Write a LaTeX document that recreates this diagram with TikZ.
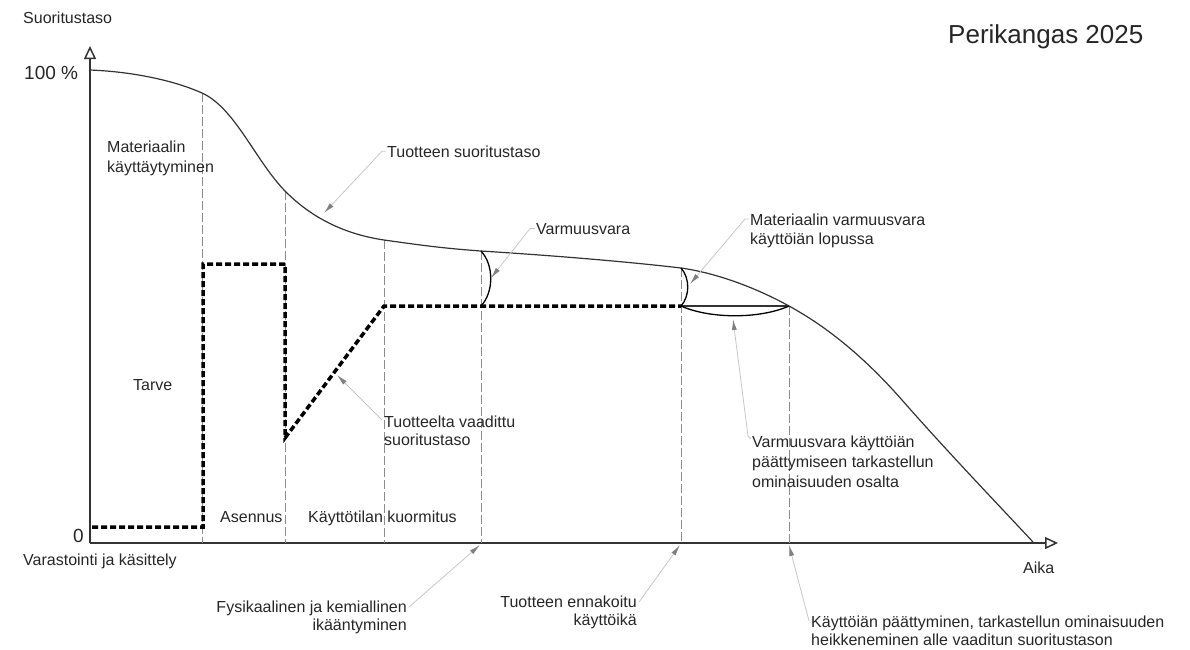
\documentclass[tikz,border=0pt]{standalone}
\usepackage{fontspec}
\setmainfont{Liberation Sans}
\usetikzlibrary{arrows.meta}
\newcommand\txtlines[3]{{\fontsize{16}{#1}\selectfont\begin{tabular}[t]{@{}#2@{}}#3\end{tabular}}}
\begin{document}
\begin{tikzpicture}[x=1pt,y=-1pt,
  txt/.style={inner sep=0pt, font=\fontsize{16}{20}\selectfont, text=black!85},
  axis/.style={draw=black!80, line width=1.8pt},
  axtip/.style={-{Triangle[open,length=13pt,width=12pt,line width=1.5pt]}},
  curve/.style={draw=black!80, line width=1.2pt},
  req/.style={draw=black, line width=3.5pt, dash pattern=on 6pt off 3pt},
  guide/.style={draw=black!45, line width=0.9pt, dash pattern=on 9pt off 3pt},
  leader/.style={draw=black!22, line width=0.8pt, -{Latex[length=11pt,width=5pt,color=black!50]}},
  marg/.style={draw=black, line width=1.3pt}]
\useasboundingbox (0,0) rectangle (1190,649);

% axes
\coordinate (O) at (90,543);
\coordinate (ytop) at (90,46);
\coordinate (xend) at (1058,543);
\draw[axis,axtip] (O) -- (ytop);
\draw[axis,axtip] (O) -- (xend);

% guide lines
\foreach \gx/\gy in {202/93, 285/191, 384/240, 481/251, 681/268, 789/306}
  \draw[guide] (\gx,\gy) -- (\gx,543);

% product performance curve
\draw[curve] (90,70) .. controls (140,72) and (180,83) .. (202,93)
  .. controls (235,108) and (255,160) .. (285,191)
  .. controls (300,206) and (330,232) .. (384,240)
  .. controls (420,245) and (440,248) .. (481,251)
  .. controls (560,256) and (630,262) .. (681,268)
  .. controls (720,273.5) and (760,290) .. (789,306)
  .. controls (820,323) and (858,350) .. (902,400)
  .. controls (945,449) and (990,496) .. (1033,542);

% required performance level
\draw[req] (92,527) -- (203,527) -- (203,264) -- (285,264) -- (285,438) -- (384,306) -- (681,306);
\draw[curve] (681,306) -- (789,306);

% safety margins
\draw[marg] (481,251) .. controls (494,265) and (494,292) .. (481,306);
\draw[marg] (681,268) .. controls (690,278) and (690,296) .. (681,306);
\draw[marg] (681,306) .. controls (710,319) and (760,319) .. (789,306);

% texts
\node[txt, anchor=base west] (ylab) at (23,23) {Suoritustaso};
\node[txt, anchor=base west, font=\fontsize{19}{22}\selectfont] (p100) at (24,79) {100 \%};
\node[txt, anchor=base west, font=\fontsize{19}{22}\selectfont] (p0) at (73,542) {0};
\node[txt, anchor=base west] (mat) at (107,152) {\txtlines{20}{l}{Materiaalin\\käyttäytyminen}};
\node[txt, anchor=base west] (tarve) at (133,390) {Tarve};
\node[txt, anchor=base west] (asen) at (220,522) {Asennus};
\node[txt, anchor=base west] (kuorm) at (308,522) {Käyttötilan kuormitus};
\node[txt, anchor=base west] (varast) at (23,565) {Varastointi ja käsittely};
\node[txt, anchor=base west] (aika) at (1023,573) {Aika};
\node[txt, anchor=base west, font=\fontsize{26}{30}\selectfont] (author) at (948,43) {Perikangas 2025};
\node[txt, anchor=base west] (tsuor) at (387,157) {Tuotteen suoritustaso};
\node[txt, anchor=base west] (vvara) at (536,234) {Varmuusvara};
\node[txt, anchor=base west] (mvara) at (750,225) {\txtlines{19}{l}{Materiaalin varmuusvara\\käyttöiän lopussa}};
\node[txt, anchor=base west] (vaad) at (384,427) {\txtlines{18.5}{l}{Tuotteelta vaadittu\\suoritustaso}};
\node[txt, anchor=base west] (vvkay) at (752,447) {\txtlines{20}{l}{Varmuusvara käyttöiän\\päättymiseen tarkastellun\\ominaisuuden osalta}};
\node[txt, anchor=base east] (fysi) at (407,612) {\txtlines{18.5}{r}{Fysikaalinen ja kemiallinen\\ikääntyminen}};
\node[txt, anchor=base east] (ennak) at (637,607) {\txtlines{18.5}{r}{Tuotteen ennakoitu\\käyttöikä}};
\node[txt, anchor=base west] (paatt) at (811,627) {\txtlines{18.5}{l}{Käyttöiän päättyminen, tarkastellun ominaisuuden\\heikkeneminen alle vaaditun suoritustason}};

% leader targets
\coordinate (t1) at (324,213);
\coordinate (t2) at (491,278);
\coordinate (t3) at (690,284);
\coordinate (t4) at (337,375);
\coordinate (t5) at (733,319);
\coordinate (t6) at (480,545);
\coordinate (t7) at (680,545);
\coordinate (t8) at (789,545);
% leader starts
\coordinate (s3) at (749,219);
\coordinate (s4) at (382,420);
\coordinate (s5a) at (751,439);
\coordinate (s5b) at (748,436);
\coordinate (s6) at (409,607);
\coordinate (s7) at (639,602);
\coordinate (s8) at (809,621);

\draw[leader] ([xshift=-1pt]tsuor.west) -- ++(-4,0) -- (t1);
\draw[leader] ([xshift=-1pt]vvara.west) -- ++(-5,0) -- (t2);
\draw[leader] (s3) -- ++(-4,0) -- (t3);
\draw[leader] (s4) -- (t4);
\draw[leader] (s5a) -- (s5b) -- (t5);
\draw[leader] (s6) -- (t6);
\draw[leader] (s7) -- (t7);
\draw[leader] (s8) -- (t8);
\end{tikzpicture}
\end{document}
